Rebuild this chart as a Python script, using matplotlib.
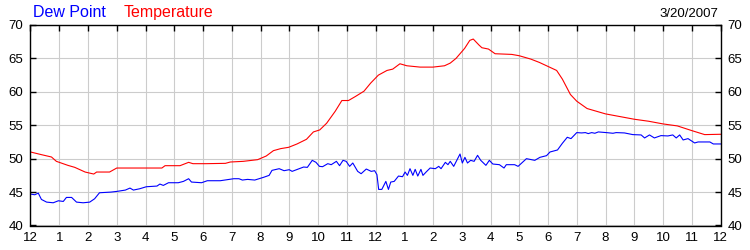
import matplotlib
matplotlib.use('Agg')
import matplotlib.pyplot as plt

# ---------------------------------------------------------
# Data (hours since midnight)
# ---------------------------------------------------------
temp_hours = [0, 0.38, 0.73, 0.9, 1.3, 1.54, 1.9, 2.2, 2.3, 2.75, 3.0, 4.57, 4.68, 5.2, 5.5, 5.65,
              6.1, 6.78, 6.95, 7.4, 7.9, 8.2, 8.45, 8.7, 8.98, 9.27, 9.6, 9.84, 10.06, 10.3, 10.6,
              10.83, 11.06, 11.3, 11.6, 11.83, 12.1, 12.4, 12.6, 12.85, 13.09, 13.55, 14.0, 14.4,
              14.6, 14.8, 15.0, 15.1, 15.28, 15.4, 15.6, 15.7, 15.93, 16.16, 16.74, 17.0, 17.4,
              17.7, 18.0, 18.3, 18.5, 18.78, 19.0, 19.36, 20.0, 20.5, 21.0, 21.5, 22.0, 22.5,
              23.0, 23.3, 23.45, 24.0]
temp_values = [51.0, 50.6, 50.25, 49.6, 49.0, 48.7, 48.0, 47.7, 48.0, 48.0, 48.6, 48.6, 48.95, 48.95,
               49.45, 49.25, 49.25, 49.3, 49.5, 49.6, 49.85, 50.4, 51.2, 51.5, 51.7, 52.2, 52.9,
               54.0, 54.3, 55.3, 57.1, 58.7, 58.7, 59.3, 60.1, 61.3, 62.5, 63.2, 63.4, 64.2, 63.9,
               63.7, 63.7, 63.9, 64.3, 65.0, 66.0, 66.5, 67.7, 67.9, 67.0, 66.6, 66.4, 65.7, 65.6,
               65.4, 64.9, 64.4, 63.8, 63.2, 61.9, 59.6, 58.6, 57.5, 56.7, 56.3, 55.9, 55.6, 55.2,
               54.9, 54.2, 53.8, 53.6, 53.65]

dew_hours = [0, 0.15, 0.27, 0.38, 0.56, 0.79, 0.97, 1.14, 1.25, 1.43, 1.6, 1.83, 2.06, 2.23, 2.4,
             2.8, 3.0, 3.3, 3.46, 3.58, 3.8, 4.03, 4.4, 4.5, 4.62, 4.8, 5.14, 5.32, 5.5, 5.6, 5.95,
             6.15, 6.6, 7.07, 7.25, 7.37, 7.55, 7.8, 8.1, 8.3, 8.4, 8.65, 8.82, 9.0, 9.1, 9.35, 9.5,
             9.63, 9.8, 9.93, 10.05, 10.16, 10.34, 10.46, 10.64, 10.75, 10.87, 10.98, 11.1, 11.21,
             11.38, 11.5, 11.68, 11.85, 11.97, 12.05, 12.11, 12.22, 12.36, 12.45, 12.53, 12.65,
             12.8, 12.94, 13.03, 13.11, 13.2, 13.3, 13.38, 13.47, 13.58, 13.65, 13.76, 13.9, 14.08,
             14.2, 14.28, 14.43, 14.52, 14.6, 14.72, 14.84, 14.94, 15.02, 15.11, 15.2, 15.31,
             15.43, 15.55, 15.66, 15.84, 15.96, 16.08, 16.31, 16.47, 16.55, 16.84, 16.96, 17.25,
             17.54, 17.72, 17.95, 18.07, 18.33, 18.5, 18.67, 18.8, 19.0, 19.17, 19.3, 19.4, 19.52,
             19.63, 19.75, 20.03, 20.26, 20.37, 20.66, 20.95, 21.24, 21.36, 21.53, 21.7, 21.93,
             22.17, 22.34, 22.46, 22.58, 22.7, 22.87, 23.1, 23.22, 23.4, 23.63, 23.75, 24.0]
dew_values = [44.7, 44.6, 44.85, 43.9, 43.5, 43.4, 43.7, 43.6, 44.2, 44.2, 43.5, 43.4, 43.5, 44.0,
              44.9, 45.0, 45.1, 45.3, 45.6, 45.3, 45.5, 45.8, 45.9, 46.2, 46.0, 46.4, 46.4, 46.6,
              47.0, 46.5, 46.4, 46.7, 46.7, 47.0, 47.0, 46.8, 46.9, 46.8, 47.2, 47.5, 48.25, 48.5,
              48.2, 48.35, 48.1, 48.5, 48.75, 48.7, 49.75, 49.45, 48.85, 48.8, 49.25, 49.1, 49.6,
              48.95, 49.75, 49.6, 48.85, 49.35, 48.1, 47.75, 48.45, 48.1, 48.2, 47.6, 45.4, 45.4,
              46.6, 45.4, 46.5, 46.6, 47.4, 47.3, 48.0, 47.5, 48.5, 47.5, 48.4, 47.4, 48.4, 47.5,
              48.0, 48.6, 48.5, 48.85, 48.5, 49.45, 49.1, 49.6, 48.85, 49.85, 50.7, 49.35, 50.2,
              49.35, 49.75, 49.6, 50.5, 49.75, 49.0, 49.75, 49.2, 49.1, 48.6, 49.1, 49.1, 48.85,
              50.0, 49.75, 50.2, 50.45, 51.0, 51.3, 52.3, 53.2, 53.0, 53.9, 53.85, 53.9, 53.75,
              53.9, 53.8, 54.0, 53.9, 53.8, 53.9, 53.85, 53.6, 53.55, 53.1, 53.55, 53.1, 53.45,
              53.4, 53.55, 53.1, 53.55, 52.8, 53.0, 52.35, 52.5, 52.5, 52.5, 52.2, 52.2]

hour_ticks = list(range(25))
hour_labels = ['12', '1', '2', '3', '4', '5', '6', '7', '8', '9', '10', '11',
               '12', '1', '2', '3', '4', '5', '6', '7', '8', '9', '10', '11', '12']
temp_ticks = [40, 45, 50, 55, 60, 65, 70]
date_text = '3/20/2007'

plt.rcParams['font.family'] = ['Liberation Sans', 'DejaVu Sans']

fig = plt.figure(figsize=(7.5, 2.5), dpi=100)
ax = fig.add_axes([30.5 / 750, 1 - 225.5 / 250, 690 / 750, 200.5 / 250])

ax.plot(dew_hours, dew_values, color='#0000ff', lw=0.8)
ax.plot(temp_hours, temp_values, color='#ff0000', lw=0.8)

ax.set_xlim(0, 24)
ax.set_ylim(40, 70)
ax.set_xticks(hour_ticks)
ax.set_xticklabels(hour_labels)
ax.set_yticks(temp_ticks)

ax.grid(True, color='#cccccc', lw=0.8)
ax.set_axisbelow(True)
for s in ax.spines.values():
    s.set_color('black')
    s.set_linewidth(1.0)

ax.tick_params(axis='x', top=True, bottom=False, labelbottom=True, direction='in',
               length=4, width=1, labelsize=9.5, pad=5)
ax.tick_params(axis='y', left=True, right=True, labelleft=True, labelright=True,
               direction='in', length=4, width=1, labelsize=9.5, pad=5)

# header texts
fig.text(33 / 750, 1 - 17 / 250, 'Dew Point', color='#0000ff', fontsize=11.5, va='baseline')
fig.text(124 / 750, 1 - 17 / 250, 'Temperature', color='#ff0000', fontsize=11.5, va='baseline')
fig.text(718 / 750, 1 - 17 / 250, date_text, color='black', fontsize=9.5, va='baseline', ha='right')

fig.savefig('out.png', dpi=100)
